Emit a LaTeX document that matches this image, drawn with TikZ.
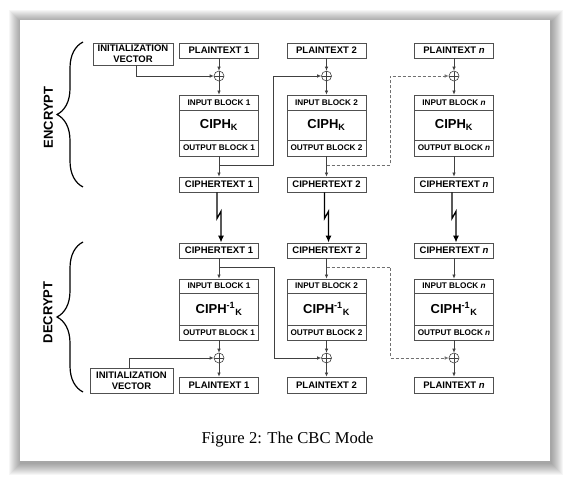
\documentclass[tikz,border=0pt]{standalone}
\usepackage{fontspec}
\setmainfont{Liberation Serif}
\setsansfont{Liberation Sans}
\usetikzlibrary{arrows.meta,decorations.pathreplacing}

\definecolor{boxgray}{HTML}{505050}
\definecolor{linegray}{HTML}{404040}
\definecolor{dashgray}{HTML}{707070}

\tikzset{
  blk/.style={draw=boxgray, line width=0.8pt, fill=white, minimum width=79pt, inner sep=0pt, align=center,
    font=\sffamily\bfseries\fontsize{9.5}{11}\selectfont},
  txt/.style={blk, minimum height=15pt},
  rowlbl/.style={blk, font=\sffamily\bfseries\fontsize{8.2}{10}\selectfont},
  ciph/.style={blk, font=\sffamily\bfseries\fontsize{13}{15}\selectfont},
  xor/.style={circle, draw=linegray, line width=0.6pt, minimum size=10pt, inner sep=0pt,
    path picture={\draw[linegray, line width=0.6pt]
      (path picture bounding box.north) -- (path picture bounding box.south)
      (path picture bounding box.west) -- (path picture bounding box.east);}},
  conn/.style={draw=linegray, line width=0.7pt, -{Latex[length=4pt,width=3.5pt]}},
  jump/.style={draw=black, line width=1.3pt, -{Latex[length=7pt,width=6pt]}},
  phase/.style={font=\sffamily\bfseries\fontsize{13}{15}\selectfont, rotate=90},
  cbrace/.style={decorate, decoration={brace, amplitude=26pt}, line width=1.2pt}
}

\begin{document}
\begin{tikzpicture}[x=1pt, y=-1pt]
  \useasboundingbox (0,0) rectangle (571,481);
  % Pagina con ombra
  \foreach \sh in {1,...,12}
    \fill[black, opacity=0.035] (20-\sh+1,20-\sh+2) rectangle (550+\sh+1,461+\sh+2);
  \fill[white] (20,20) rectangle (550,461);

  % Colonne
  \foreach \col/\xc/\lab in {1/219/1, 2/326.5/2, n/454/\textit{n}} {
    % Cifratura
    \node[txt] (pE\col) at (\xc,50.5) {PLAINTEXT \lab};
    \node[xor] (xE\col) at (\xc,76) {};
    \node[rowlbl, minimum height=15pt] (inE\col) at (\xc,102.5) {INPUT BLOCK \lab};
    \node[ciph, minimum height=30pt] (cE\col) at (\xc,125) {CIPH\textsubscript{K}};
    \node[rowlbl, minimum height=16pt] (outE\col) at (\xc,148) {OUTPUT BLOCK \lab};
    \node[txt] (ctE\col) at (\xc,184.5) {CIPHERTEXT \lab};
    \draw[conn] (pE\col) -- (xE\col);
    \draw[conn] (xE\col) -- (inE\col);
    \draw[conn] (outE\col) -- (ctE\col);
    % Decifratura
    \node[txt] (ctD\col) at (\xc,250.5) {CIPHERTEXT \lab};
    \node[rowlbl, minimum height=14pt] (inD\col) at (\xc,286) {INPUT BLOCK \lab};
    \node[ciph, minimum height=32pt] (cD\col) at (\xc,309) {CIPH\textsuperscript{-1}\textsubscript{K}};
    \node[rowlbl, minimum height=15pt] (outD\col) at (\xc,332.5) {OUTPUT BLOCK \lab};
    \node[xor] (xD\col) at (\xc,358) {};
    \node[txt, minimum height=16pt] (pD\col) at (\xc,385) {PLAINTEXT \lab};
    \draw[conn] (ctD\col) -- (inD\col);
    \draw[conn] (outD\col) -- (xD\col);
    \draw[conn] (xD\col) -- (pD\col);
    % Trasmissione
    \draw[jump] ([xshift=-2pt]ctE\col.south) -- ++(0,26) -- ++(4,-7) -- ([xshift=2pt]ctD\col.north);
  }

  % Vettori di inizializzazione
  \node[blk, minimum width=80pt, minimum height=22pt] (ivE) at (133,54) {INITIALIZATION\\VECTOR};
  \draw[conn] ([xshift=3pt]ivE.south) |- (xE1.west);
  \node[blk, minimum width=83pt, minimum height=25pt] (ivD) at (131.5,380.5) {INITIALIZATION\\VECTOR};
  \draw[conn] ([xshift=-2.5pt]ivD.north) |- (xD1.west);

  % Concatenamento
  \coordinate (fE1) at (219,165);   \coordinate (kE1) at (273,165);
  \coordinate (fE2) at (326.5,165); \coordinate (kE2) at (390,165);
  \draw[conn] (fE1) -- (kE1) |- (xE2.west);
  \draw[conn, draw=dashgray, densely dashed] (fE2) -- (kE2) |- (xEn.west);
  \coordinate (fD1) at (219,267);   \coordinate (kD1) at (274,267);
  \coordinate (fD2) at (326.5,267); \coordinate (kD2) at (390,267);
  \draw[conn] (fD1) -- (kD1) |- (xD2.west);
  \draw[conn, draw=dashgray, densely dashed] (fD2) -- (kD2) |- (xDn.west);

  % Graffe
  \draw[cbrace] (83,187) -- (83,42);
  \node[phase] (enc) at (48.5,117.5) {ENCRYPT};
  \draw[cbrace] (83,392) -- (83,242);
  \node[phase] (dec) at (48,312.5) {DECRYPT};

  % Didascalia
  \node[anchor=base, font=\fontsize{16.6}{19}\selectfont] (cap) at (287.5,443) {Figure 2: The CBC Mode};
\end{tikzpicture}
\end{document}
